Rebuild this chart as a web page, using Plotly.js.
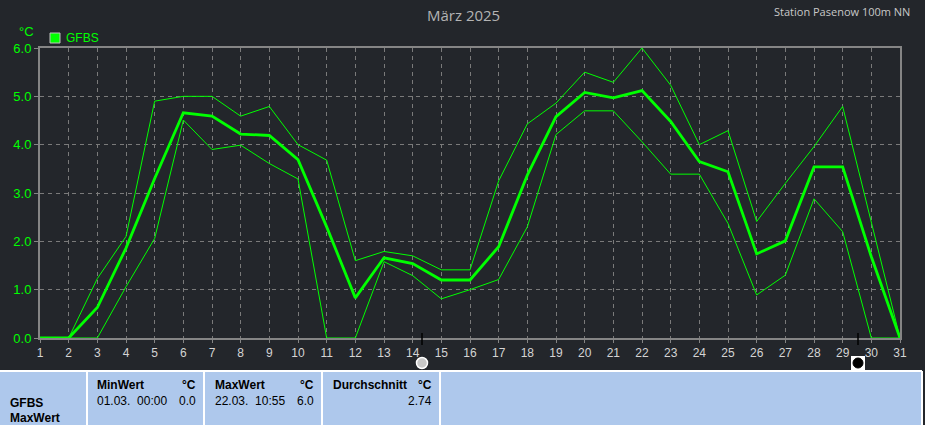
<!DOCTYPE html>
<html>
<head>
<meta charset="utf-8">
<script src="https://cdn.plot.ly/plotly-3.0.1.min.js"></script>
<style>
html,body{margin:0;padding:0;background:#23262b;}
#chart{width:925px;height:425px;}
</style>
</head>
<body>
<div id="chart"></div>
<script>
// ---- data ----
const days = [1,2,3,4,5,6,7,8,9,10,11,12,13,14,15,16,17,18,19,20,21,22,23,24,25,26,27,28,29,30,31];
const maxVals  = [0,0,1.23,2.1,4.9,5.0,5.0,4.59,4.79,4.0,3.68,1.6,1.79,1.7,1.41,1.41,3.25,4.43,4.86,5.5,5.29,6.0,5.23,4.0,4.29,2.41,3.2,3.96,4.79,2.4,0];
const meanVals = [0,0,0.63,1.86,3.3,4.66,4.59,4.22,4.19,3.69,2.3,0.83,1.66,1.54,1.2,1.2,1.89,3.37,4.58,5.08,4.97,5.12,4.48,3.65,3.44,1.74,2.01,3.54,3.54,1.68,0];
const minVals  = [0,0,0,1.06,2.06,4.51,3.9,3.99,3.61,3.29,0,0,1.58,1.29,0.81,1.0,1.21,2.3,4.21,4.7,4.7,4.06,3.39,3.39,2.37,0.89,1.3,2.88,2.2,0,0];
const yTicks = [0,1,2,3,4,5,6];
const seriesName = "GFBS";
const chartTitle = "März 2025";
const stationText = "Station Pasenow 100m NN";
const unitText = "°C";
const statHeaders = ["MinWert","MaxWert","Durchschnitt"];
const statTimes = ["01.03.  00:00","22.03.  10:55",""];
const statValues = ["0.0","6.0","2.74"];
const rowLabels = ["GFBS","MaxWert"];

// ---- geometry helpers ----
const W=925,H=425,L=40,R=25,T=48,B=87;
const PW=W-L-R, PH=H-T-B;
const px = x => (x-L)/PW;
const py = y => (H-B-y)/PH;

const green = "#00ff00";
const gray = "#858585";
const font = "Liberation Sans, Arial, sans-serif";

const traces = [
  {x:days,y:maxVals,mode:"lines",line:{color:green,width:1},hoverinfo:"skip"},
  {x:days,y:minVals,mode:"lines",line:{color:green,width:1},hoverinfo:"skip"},
  {x:days,y:meanVals,mode:"lines",name:seriesName,line:{color:green,width:2.8},hoverinfo:"skip"}
];

const shapes = [];
const annotations = [];
function rect(x0,y0,x1,y1,fill,lc,lw){shapes.push({type:"rect",xref:"paper",yref:"paper",x0:px(x0),x1:px(x1),y0:py(y0),y1:py(y1),fillcolor:fill,line:{color:lc||fill,width:lw===undefined?0:lw},layer:"above"});}
function seg(x0,y0,x1,y1,c,w){shapes.push({type:"line",xref:"paper",yref:"paper",x0:px(x0),x1:px(x1),y0:py(y0),y1:py(y1),line:{color:c,width:w},layer:"above"});}
function circ(cx,cy,r,fill,lc,lw){shapes.push({type:"circle",xref:"paper",yref:"paper",x0:px(cx-r),x1:px(cx+r),y0:py(cy-r),y1:py(cy+r),fillcolor:fill,line:{color:lc,width:lw},layer:"above"});}
function txt(x,y,t,opt){annotations.push(Object.assign({xref:"paper",yref:"paper",x:px(x),y:py(y),text:t,showarrow:false,xanchor:"left",yanchor:"middle",font:{family:font,size:12,color:"#000"}},opt||{}));}

// title & station
txt(463,15,chartTitle,{xanchor:"center",font:{family:"Open Sans, sans-serif",size:15,color:"#b4b4b4"}});
txt(912,12,stationText,{xanchor:"right",font:{family:"Open Sans, sans-serif",size:11,color:"#c8c8c8"}});
// unit + legend
txt(26,32,unitText,{xanchor:"center",font:{family:font,size:13,color:green}});
rect(50,33,60,43,green,"#c0c0c0",1);
txt(64,38,seriesName,{font:{family:font,size:12,color:green}});

// slider markers
seg(422,333,422,345,"#000",1.5);
circ(422,363,5.5,"#c8c8c8","#ffffff",1.5);
seg(858,333,858,345,"#000",1.5);
rect(851,356,865,370,"#ffffff","#ffffff",0);
circ(858,363,5,"#000000","#000000",1);

// bottom statistics panel
rect(0,371,922,425,"#aec8ec","#aec8ec",0);
seg(0,371,922,371,"#ffffff",2);
[87,204,322,440,922].forEach(x=>seg(x,371,x,425,"#ffffff",2));
const bold = {family:font,size:12,color:"#000",weight:"bold"};
const reg = {family:font,size:12,color:"#000"};
txt(8,403,rowLabels[0],{font:bold});
txt(8,418,rowLabels[1],{font:bold});
const colX=[95,213,331], colR=[198,316,434];
for(let i=0;i<3;i++){
  txt(colX[i],385,statHeaders[i],{font:bold});
  txt(colR[i],385,unitText,{xanchor:"right",font:bold});
  if(statTimes[i]) txt(colX[i],401,statTimes[i],{font:reg});
  txt(colR[i],401,statValues[i],{xanchor:"right",font:reg});
}

const layout = {
  width:W,height:H,
  margin:{l:L,r:R,t:T,b:B,pad:0},
  paper_bgcolor:"#23262b",plot_bgcolor:"#23262b",
  showlegend:false,
  xaxis:{range:[1,31],tickvals:days,ticktext:days.map(String),
    showgrid:true,gridcolor:"#7a7a7a",gridwidth:1,griddash:"4px,4px",
    showline:true,linecolor:gray,linewidth:2,mirror:true,
    ticks:"outside",ticklen:3,tickcolor:gray,
    tickfont:{family:font,size:12,color:"#d4d4d4"},zeroline:false,fixedrange:true},
  yaxis:{range:[0,6],tickvals:yTicks,tickformat:".1f",
    showgrid:true,gridcolor:"#7a7a7a",gridwidth:1,griddash:"4px,4px",
    showline:true,linecolor:gray,linewidth:2,mirror:true,
    ticks:"outside",ticklen:4,tickcolor:gray,
    tickfont:{family:font,size:13,color:green},zeroline:false,fixedrange:true},
  shapes:shapes,annotations:annotations
};
Plotly.newPlot("chart",traces,layout,{displayModeBar:false,staticPlot:true});
</script>
</body>
</html>
